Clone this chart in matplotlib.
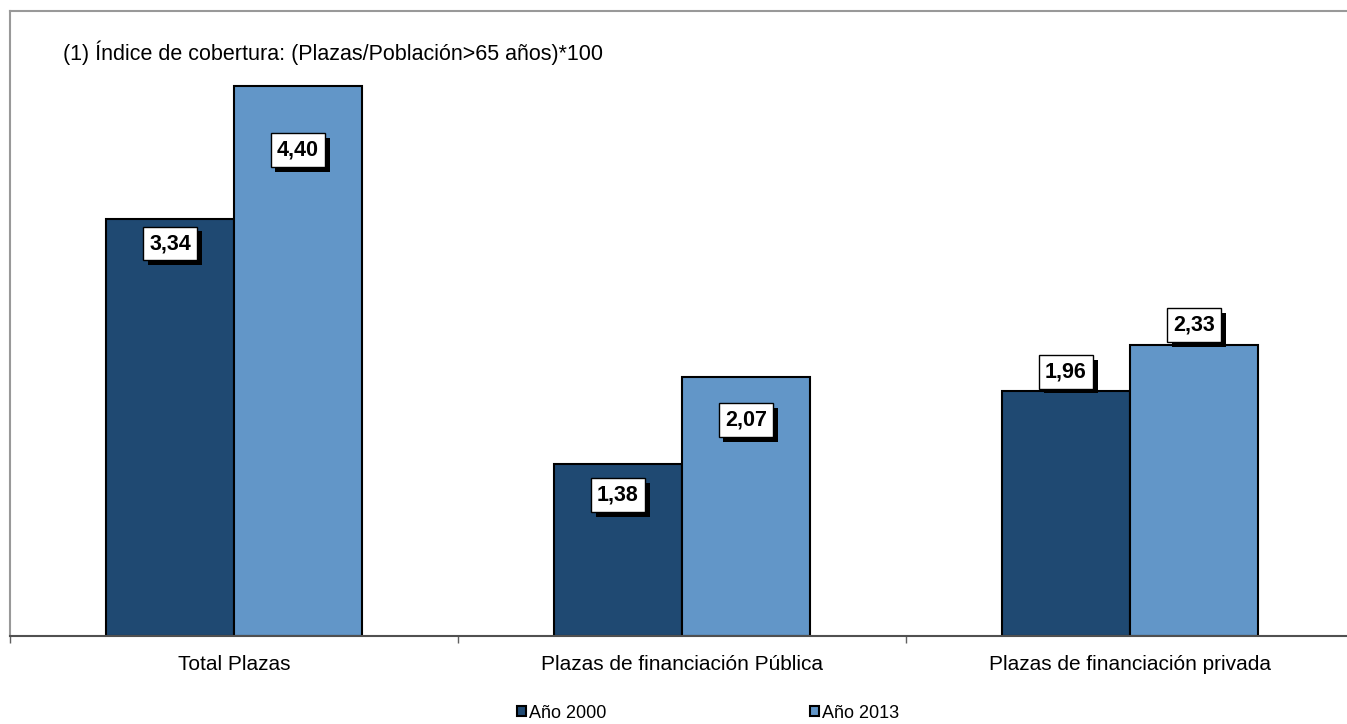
import matplotlib
matplotlib.use("Agg")
import matplotlib.pyplot as plt
import matplotlib.patheffects as pe
import numpy as np

# data
categories = ["Total Plazas", "Plazas de financiación Pública", "Plazas de financiación privada"]
series_names = ["Año 2000", "Año 2013"]
values_2000 = [3.34, 1.38, 1.96]
values_2013 = [4.40, 2.07, 2.33]
note = "(1) Índice de cobertura: (Plazas/Población>65 años)*100"

# label placement relative to bar top (data units)
offs_2000 = [-0.20, -0.25, 0.155]
offs_2013 = [-0.51, -0.34, 0.16]

colors = ["#1F4972", "#6296C8"]

plt.rcParams['font.family'] = ['Liberation Sans', 'DejaVu Sans']

W, H = 1347, 724
fig = plt.figure(figsize=(W / 100, H / 100), dpi=100)
ax = fig.add_axes([10 / W, (H - 636) / H, 1344 / W, (636 - 11) / H])

x = np.arange(len(categories))
bw = 128 / 448
b1 = ax.bar(x - bw / 2, values_2000, bw, color=colors[0], edgecolor="black", linewidth=1.5, label=series_names[0], zorder=2)
b2 = ax.bar(x + bw / 2, values_2013, bw, color=colors[1], edgecolor="black", linewidth=1.5, label=series_names[1], zorder=2)

def fmt(v):
    return f"{v:.2f}".replace(".", ",")

for bars, vals, offs in [(b1, values_2000, offs_2000), (b2, values_2013, offs_2013)]:
    for rect, v, o in zip(bars, vals, offs):
        t = ax.text(rect.get_x() + rect.get_width() / 2, v + o, fmt(v),
                    ha="center", va="center", fontsize=15.5, fontweight="bold", zorder=5,
                    bbox=dict(boxstyle="square,pad=0.3", facecolor="white", edgecolor="black", linewidth=1))
        t.get_bbox_patch().set_path_effects([
            pe.SimplePatchShadow(offset=(3.5, -3.5), shadow_rgbFace="black", alpha=1.0),
            pe.Normal()])

ax.set_xlim(-0.5, 2.5)
ax.set_ylim(0, 5)
ax.set_yticks([])
ax.set_xticks(x)
ax.set_xticklabels(categories, fontsize=15)
ax.tick_params(axis="x", which="major", length=0, pad=14)
ax.set_xticks([-0.5, 0.5, 1.5, 2.5], minor=True)
ax.tick_params(axis="x", which="minor", length=5, color="#606060", width=1)

for s in ["top", "left"]:
    ax.spines[s].set_color("#999999")
    ax.spines[s].set_linewidth(1.5)
ax.spines["right"].set_visible(False)
ax.spines["bottom"].set_color("#505050")
ax.spines["bottom"].set_linewidth(1.5)

ax.text((63 - 10) / 1344, (636 - 53) / (636 - 11), note,
        transform=ax.transAxes, fontsize=15.5, ha="left", va="center")

fig.legend(handles=[b1, b2], labels=series_names, loc="center", ncol=2,
           bbox_to_anchor=(708 / W, 1 - 713 / H), frameon=False, fontsize=13,
           handlelength=0.5, handleheight=0.5, handletextpad=0.15, columnspacing=11.3)

fig.savefig("out.png", dpi=100)
